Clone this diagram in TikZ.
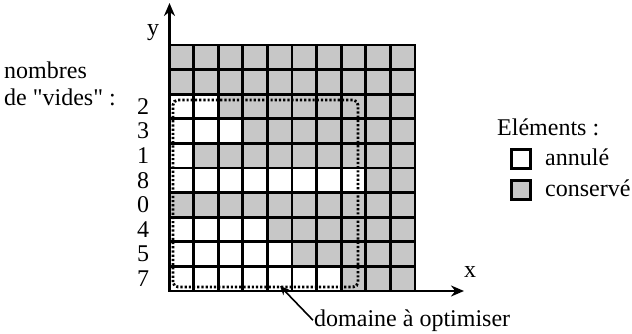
\documentclass[tikz,border=0pt]{standalone}
\usepackage{fontspec}
\setmainfont{Liberation Serif}[Ligatures=TeXOff]
\usetikzlibrary{arrows.meta}
\begin{document}
\begin{tikzpicture}[x=1pt,y=-1pt,font=\fontsize{24}{26}\selectfont,
  cellgray/.style={fill=black!22},
  gridline/.style={line width=2.7pt,line cap=rect},
  domline/.style={line width=2.8pt,dash pattern=on 2.2pt off 2pt,rounded corners=5pt},
  axisline/.style={line width=2.2pt,-{Stealth[length=13pt,width=11pt]}},
  txt/.style={inner sep=0pt,anchor=west},
  numlbl/.style={inner sep=0pt},
  legbox/.style={draw,line width=2.6pt,minimum size=19pt,inner sep=0pt}]
\useasboundingbox (0,0) rectangle (632,334);
% cells
\foreach \r/\w in {1/0,2/0,3/2,4/3,5/1,6/8,7/0,8/4,9/5,10/7} {
  \foreach \c in {1,...,10} {
    \pgfmathsetmacro\xx{169+(\c-1)*24.6}
    \pgfmathsetmacro\yy{45+(\r-1)*24.6}
    \ifnum\c>\w \fill[cellgray] (\xx,\yy) rectangle ++(24.6,24.6); \fi
  }
}
% grid lines
\foreach \i in {0,...,10} {
  \draw[gridline] ({169+\i*24.6},45) -- ({169+\i*24.6},291);
  \draw[gridline] (169,{45+\i*24.6}) -- (415,{45+\i*24.6});
}
% domain
\draw[domline] (173,287) -- (173,100) -- (358,100) -- (358,287) -- cycle;
% axes
\coordinate (O) at (169.5,291);
\coordinate (ytip) at (169.5,3);
\coordinate (xtip) at (464,291);
\draw[axisline] (O) -- (ytip);
\draw[axisline] (O) -- (xtip);
\node[numlbl] (ylab) at (153,33) {y};
\node[numlbl] (xlab) at (470,272) {x};
% row counts
\foreach \r/\n in {3/2,4/3,5/1,6/8,7/0,8/4,9/5,10/7} {
  \node[numlbl] (n\r) at (143,{45+(\r-0.5)*24.6}) {\n};
}
\node[txt] (nb1) at (4,70) {nombres};
\node[txt] (nb2) at (4,97) {de "vides" :};
% legend
\node[txt] (elem) at (497,127) {Eléments :};
\node[legbox] (annbox) at (521,159) {};
\node[legbox,fill=black!22] (consbox) at (521,190) {};
\node[txt] (ann) at (545,157) {annulé};
\node[txt] (cons) at (545,188) {conservé};
% domaine label
\node[inner sep=1pt,anchor=base west] (dom) at (313,326) {domaine à optimiser};
\coordinate (domtip) at (280,286);
\draw[line width=1.6pt,-{Stealth[length=9pt,width=8pt]}] (dom.west) -- (domtip);
\end{tikzpicture}
\end{document}
